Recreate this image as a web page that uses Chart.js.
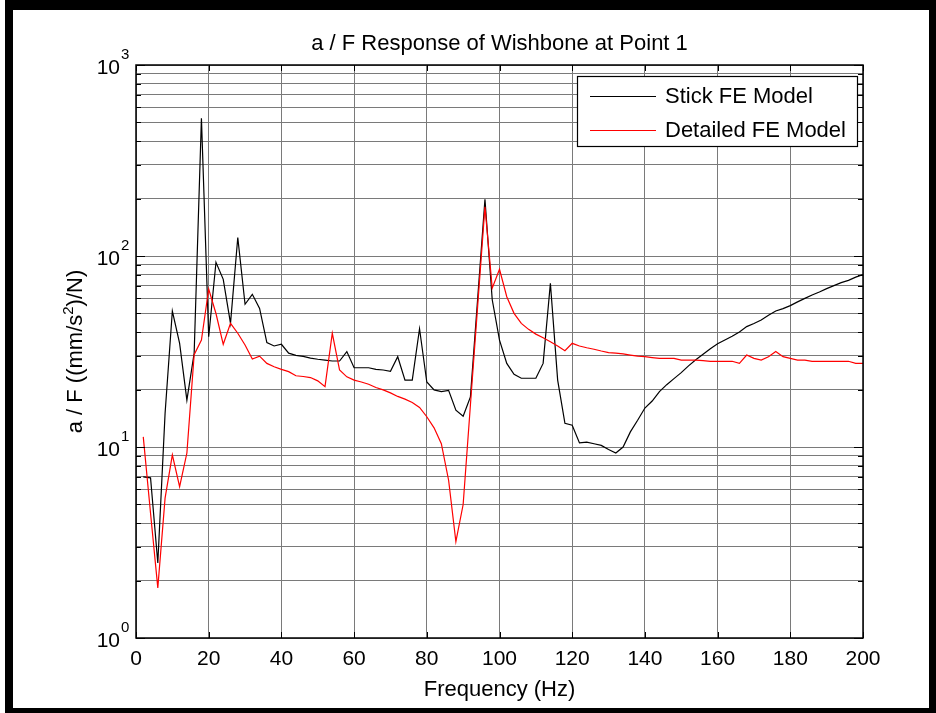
<!DOCTYPE html>
<html>
<head>
<meta charset="utf-8">
<script src="https://cdn.jsdelivr.net/npm/chart.js@4.4.1/dist/chart.umd.min.js"></script>
<style>
  html, body { margin: 0; padding: 0; background: #fff; }
  #wrap { position: relative; width: 936px; height: 713px; }
  #frame {
    position: absolute; left: 5px; top: 0; width: 916px; height: 698px;
    border-style: solid; border-color: #000; border-width: 10px 7px 5px 8px;
    pointer-events: none;
  }
  canvas { position: absolute; left: 0; top: 0; }
</style>
</head>
<body>
<div id="wrap">
  <canvas id="chart" width="936" height="713"></canvas>
  <div id="frame"></div>
</div>
<script>
// frequency (Hz)
const freq = [2, 4, 6, 8, 10, 12, 14, 16, 18, 20, 22, 24, 26, 28, 30, 32, 34, 36, 38, 40,
  42, 44, 46, 48, 50, 52, 54, 56, 58, 60, 62, 64, 66, 68, 70, 72, 74, 76, 78, 80,
  82, 84, 86, 88, 90, 92, 94, 96, 98, 100, 102, 104, 106, 108, 110, 112, 114, 116, 118, 120,
  122, 124, 126, 128, 130, 132, 134, 136, 138, 140, 142, 144, 146, 148, 150, 152, 154, 156, 158, 160,
  162, 164, 166, 168, 170, 172, 174, 176, 178, 180, 182, 184, 186, 188, 190, 192, 194, 196, 198, 200];

// a/F, stick model
const stickFE = [6.97, 6.9, 2.47, 15, 51.5, 34.9, 17.6, 31, 526, 37.8, 92.7, 75.5, 44.4, 125, 55.9, 63, 53.2, 35.2, 33.8, 34.5,
  31, 30.2, 29.8, 29.2, 28.8, 28.5, 28.2, 28.2, 31.6, 26, 26, 26, 25.5, 25.3, 24.9, 29.7, 22.4, 22.4, 41.6, 21.9,
  19.9, 19.5, 19.8, 15.6, 14.5, 18.3, 60, 198, 59, 36.3, 27.4, 24, 22.9, 22.9, 22.9, 27.4, 72, 22.4, 13.3, 13,
  10.5, 10.6, 10.4, 10.2, 9.7, 9.3, 10.0, 12, 13.8, 16.0, 17.4, 19.5, 21.2, 22.8, 24.5, 26.6, 28.6, 30.6, 32.7, 34.7,
  36.3, 38.0, 40, 42.7, 44.3, 46.2, 49, 51.5, 53, 55, 57.5, 60, 62.5, 64.8, 67.5, 70, 72.5, 74.5, 77.5, 80];

// a/F, detailed model
const detailedFE = [11.3, 4.5, 1.83, 5.4, 9.1, 6.2, 9.3, 30.4, 36.3, 67.2, 50, 34.5, 44.4, 39.4, 34.2, 28.9, 29.9, 27.4, 26.3, 25.5,
  24.8, 23.6, 23.4, 23.1, 22.2, 20.7, 39.4, 25.3, 23.3, 22.4, 21.9, 21.3, 20.5, 19.9, 19.2, 18.4, 17.8, 17.1, 16.1, 14.4,
  12.6, 10.4, 6.7, 3.2, 5.0, 16.6, 55, 181, 67.8, 85.2, 61.2, 50.1, 44.4, 41.3, 39, 37.3, 35.6, 33.8, 31.9, 34.9,
  33.8, 33.1, 32.5, 31.8, 31.2, 31, 30.7, 30.3, 29.9, 29.7, 29.4, 29.1, 29.1, 29.1, 28.5, 28.5, 28.5, 28.3, 28.1, 28.1,
  28.1, 28.1, 27.4, 30.3, 29.1, 28.5, 29.7, 31.6, 29.7, 29.1, 28.5, 28.5, 28.1, 28.1, 28.1, 28.1, 28.1, 28.1, 27.4, 27.4];

const seriesNames = ['Stick FE Model', 'Detailed FE Model'];
const xTicks = [0, 20, 40, 60, 80, 100, 120, 140, 160, 180, 200];
const yDecades = [1, 10, 100, 1000];
const yExponents = ['0', '1', '2', '3'];
const yMultipliers = [1, 2, 3, 4, 5, 6, 7, 8, 9];

const titleText = 'a / F Response of Wishbone at Point 1';
const xTitle = 'Frequency (Hz)';

const FONT = "'Liberation Sans', Arial, sans-serif";
const GRID = '#7a7a7a';

// all log grid positions (1..9 in each decade, plus the top)
const yGrid = [];
yDecades.slice(0, -1).forEach((d) => yMultipliers.forEach((m) => yGrid.push(d * m)));
yGrid.push(yDecades[yDecades.length - 1]);

function seg(ctx, x1, y1, x2, y2) {
  ctx.beginPath();
  ctx.moveTo(x1, y1);
  ctx.lineTo(x2, y2);
  ctx.stroke();
}

// matlab style box, inward ticks, labels and legend
const matlabAxes = {
  id: 'matlabAxes',
  afterDraw(chart) {
    const { ctx, chartArea: a } = chart;
    const x = chart.scales.x, y = chart.scales.y;
    ctx.save();
    ctx.strokeStyle = '#000';
    ctx.lineWidth = 1.5;
    ctx.strokeRect(a.left, a.top, a.right - a.left, a.bottom - a.top);

    ctx.lineWidth = 1;
    xTicks.forEach((v) => {
      const px = Math.round(x.getPixelForValue(v)) + 0.5;
      seg(ctx, px, a.bottom, px, a.bottom - 6);
      seg(ctx, px, a.top, px, a.top + 6);
    });
    yGrid.forEach((v) => {
      const len = yDecades.includes(v) ? 9 : 5;
      const py = Math.round(y.getPixelForValue(v)) + 0.5;
      seg(ctx, a.left, py, a.left + len, py);
      seg(ctx, a.right, py, a.right - len, py);
    });

    ctx.fillStyle = '#000';
    ctx.font = '21px ' + FONT;
    ctx.textAlign = 'center';
    ctx.textBaseline = 'alphabetic';
    xTicks.forEach((v) => ctx.fillText(String(v), x.getPixelForValue(v), a.bottom + 27));

    yDecades.forEach((v, i) => {
      const py = y.getPixelForValue(v);
      ctx.font = '21px ' + FONT;
      ctx.textAlign = 'right';
      ctx.fillText('10', a.left - 16, py + 9);
      ctx.font = '15px ' + FONT;
      ctx.textAlign = 'left';
      ctx.fillText(yExponents[i], a.left - 15, py - 6);
    });

    // titles
    const cx = (a.left + a.right) / 2;
    ctx.font = '22px ' + FONT;
    ctx.textAlign = 'center';
    ctx.fillText(titleText, cx, 50);
    ctx.fillText(xTitle, cx, 696);

    // y title with superscript 2
    ctx.save();
    ctx.translate(82, (a.top + a.bottom) / 2);
    ctx.rotate(-Math.PI / 2);
    const p1 = 'a / F ((mm/s', p2 = '2', p3 = ')/N)';
    ctx.font = '22px ' + FONT;
    const w1 = ctx.measureText(p1).width, w3 = ctx.measureText(p3).width;
    ctx.font = '15px ' + FONT;
    const w2 = ctx.measureText(p2).width;
    let sx = -(w1 + w2 + w3) / 2;
    ctx.textAlign = 'left';
    ctx.font = '22px ' + FONT;
    ctx.fillText(p1, sx, 0);
    ctx.font = '15px ' + FONT;
    ctx.fillText(p2, sx + w1, -9);
    ctx.font = '22px ' + FONT;
    ctx.fillText(p3, sx + w1 + w2, 0);
    ctx.restore();

    // legend
    const lx = 577, ly = 76, lw = 280, lh = 70;
    ctx.fillStyle = '#fff';
    ctx.fillRect(lx, ly, lw, lh);
    ctx.strokeStyle = '#000';
    ctx.lineWidth = 1.2;
    ctx.strokeRect(lx + 0.5, ly + 0.5, lw, lh);
    chart.data.datasets.forEach((ds, i) => {
      const ry = ly + 20 + i * 34;
      ctx.strokeStyle = ds.borderColor;
      ctx.lineWidth = 1;
      seg(ctx, 590, ry + 0.5, 656, ry + 0.5);
      ctx.fillStyle = '#000';
      ctx.font = '22px ' + FONT;
      ctx.textAlign = 'left';
      ctx.textBaseline = 'middle';
      ctx.fillText(ds.label, 665, ry + 1);
    });
    ctx.restore();
  }
};

const ctx = document.getElementById('chart').getContext('2d');
new Chart(ctx, {
  type: 'line',
  data: {
    datasets: [
      {
        label: seriesNames[0],
        data: freq.map((f, i) => ({ x: f, y: stickFE[i] })),
        borderColor: '#000000',
        borderWidth: 1.2,
        pointRadius: 0,
        fill: false,
        tension: 0,
        order: 1,
      },
      {
        label: seriesNames[1],
        data: freq.map((f, i) => ({ x: f, y: detailedFE[i] })),
        borderColor: '#ff0000',
        borderWidth: 1.2,
        pointRadius: 0,
        fill: false,
        tension: 0,
        order: 0,
      },
    ],
  },
  options: {
    responsive: false,
    animation: false,
    devicePixelRatio: 1,
    layout: { padding: { left: 0, right: 73, top: 65, bottom: 75 } },
    plugins: { legend: { display: false }, title: { display: false }, tooltip: { enabled: false } },
    scales: {
      x: {
        type: 'linear', min: 0, max: 200,
        afterBuildTicks: (s) => { s.ticks = xTicks.map((v) => ({ value: v })); },
        afterFit: (s) => { s.height = 0; },
        ticks: { display: false },
        grid: { color: GRID, lineWidth: 1, drawTicks: false },
        border: { display: false },
      },
      y: {
        type: 'logarithmic', min: 1, max: 1000,
        afterBuildTicks: (s) => { s.ticks = yGrid.map((v) => ({ value: v })); },
        afterFit: (s) => { s.width = 136; },
        ticks: { display: false },
        grid: { color: GRID, lineWidth: 1, drawTicks: false },
        border: { display: false },
      },
    },
  },
  plugins: [matlabAxes],
});
</script>
</body>
</html>
